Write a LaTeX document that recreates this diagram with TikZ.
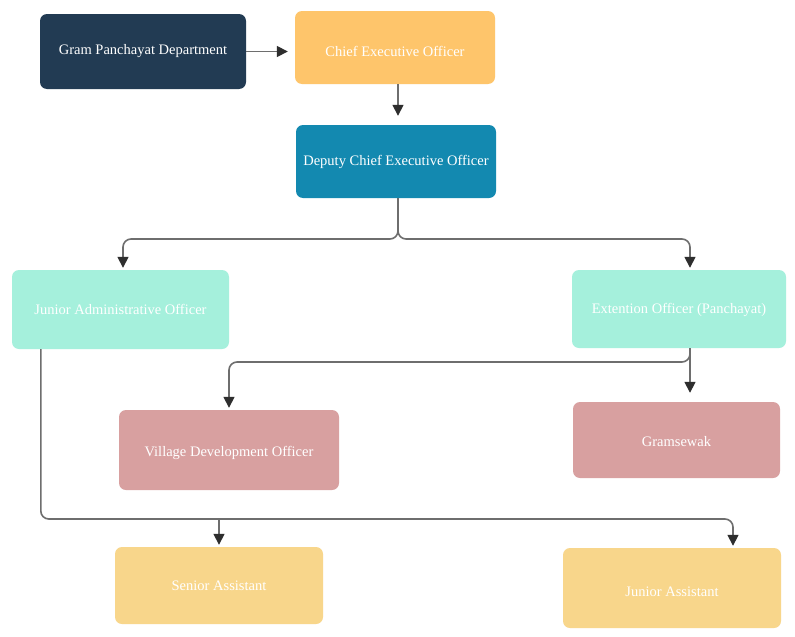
\documentclass[tikz,border=0pt]{standalone}
\usepackage{fontspec}
\setmainfont{Liberation Serif}
\usetikzlibrary{arrows.meta}
\definecolor{navy}{HTML}{223B53}
\definecolor{ceoc}{HTML}{FEC56B}
\definecolor{teal}{HTML}{1389B0}
\definecolor{mint}{HTML}{A5F0DC}
\definecolor{pinkc}{HTML}{D8A0A0}
\definecolor{sand}{HTML}{F8D68B}
\definecolor{linec}{HTML}{6E6E6E}
\definecolor{tipc}{HTML}{2E2E2E}
\newcommand\lowr[2]{\raisebox{-#1pt}[\height][\depth]{#2}}
\tikzset{
  box/.style={rounded corners=7pt, text=white, inner sep=2pt, align=center,
    font=\fontsize{14.5}{17}\selectfont},
  arr/.style={draw=linec, line width=1.6pt, rounded corners=8pt,
    -{Triangle[length=11pt,width=11pt,color=tipc]}},
}
\begin{document}
\begin{tikzpicture}[x=1pt,y=-1pt]
\useasboundingbox[fill=white] (0,0) rectangle (795,637);
\node[box, fill=navy, minimum width=206pt, minimum height=75pt] (gpd) at (143,51.5) {Gram Panchayat Department};
\node[box, fill=ceoc, minimum width=200pt, minimum height=73pt] (ceo) at (395,47.5) {\lowr{4}{Chief Executive Officer}};
\node[box, fill=teal, minimum width=200pt, minimum height=73pt] (dceo) at (396,161.5) {Deputy Chief Executive Officer};
\node[box, fill=mint, minimum width=217pt, minimum height=79pt] (jao) at (120.5,309.5) {Junior Administrative Officer};
\node[box, fill=mint, minimum width=214pt, minimum height=78pt] (eo) at (679,309) {\lowr{1}{Extention Officer (Panchayat)}};
\node[box, fill=pinkc, minimum width=220pt, minimum height=80pt] (vdo) at (229,450) {\lowr{3}{Village Development Officer}};
\node[box, fill=pinkc, minimum width=207pt, minimum height=76pt] (gram) at (676.5,440) {\lowr{2}{Gramsewak}};
\node[box, fill=sand, minimum width=208pt, minimum height=77pt] (sa) at (219,585.5) {Senior Assistant};
\node[box, fill=sand, minimum width=218pt, minimum height=80pt] (ja) at (672,588) {\lowr{4}{Junior Assistant}};

\coordinate (split1) at (398,239);
\coordinate (split2) at (690,362);
\coordinate (bus) at (0,519);

\draw[arr, shorten >=7pt] (gpd.east) -- (gpd.east -| ceo.west);
\draw[arr, shorten >=9pt] ([xshift=3pt]ceo.south) -- ([xshift=2pt]dceo.north);
\draw[arr, shorten >=2pt] ([xshift=2pt]dceo.south) -- (split1) -| ([xshift=2.5pt]jao.north);
\draw[arr, shorten >=2pt] ([xshift=2pt]dceo.south) -- (split1) -| ([xshift=11pt]eo.north);
\draw[arr, shorten >=2pt] ([xshift=11pt]eo.south) -- (split2) -| (vdo.north);
\draw[arr, shorten >=9pt] ([xshift=11pt]eo.south) -- ([xshift=13.5pt]gram.north);
\draw[arr, shorten >=2pt] ([xshift=29pt]jao.south west) |- ([xshift=61pt]ja.north |- bus) -- ([xshift=61pt]ja.north);
\draw[arr, shorten >=2pt] (sa.north |- bus) -- (sa.north);
\end{tikzpicture}
\end{document}
